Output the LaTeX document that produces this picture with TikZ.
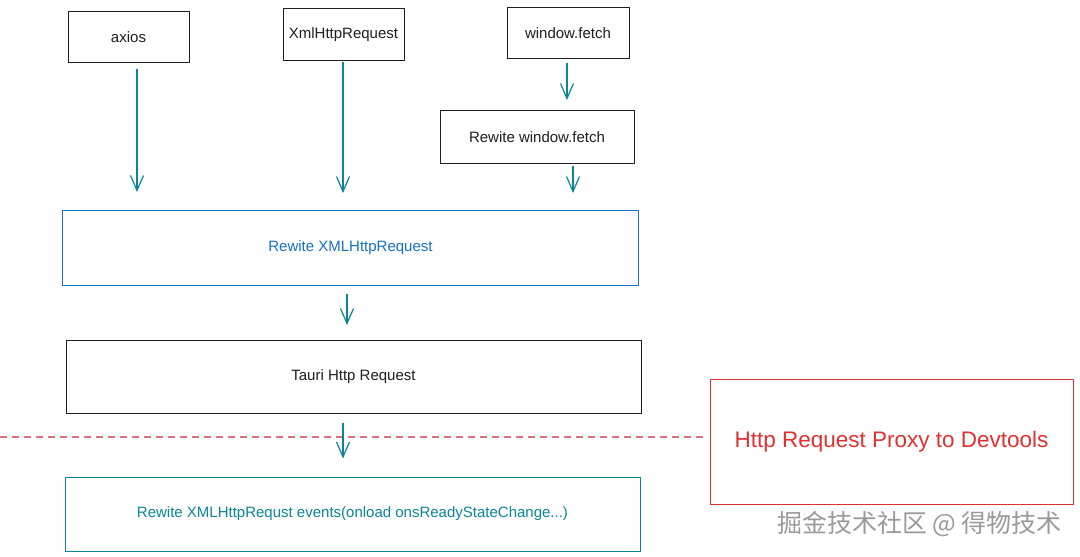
\documentclass[tikz,border=0pt]{standalone}
\usepackage{fontspec}
\usepackage{xcolor}
\usepackage{tikz}
\usetikzlibrary{arrows.meta,calc,positioning}
\setmainfont{Liberation Sans}
\newfontfamily\cjkfont{Noto Sans CJK SC}
\definecolor{inkblack}{HTML}{1E1E1E}
\definecolor{inkblue}{HTML}{1971C2}
\definecolor{inkteal}{HTML}{0C8599}
\definecolor{inkred}{HTML}{E03131}
\definecolor{dashred}{HTML}{E0707C}
\definecolor{markgray}{HTML}{9A9A9A}

\begin{document}
\begin{tikzpicture}[x=1pt,y=-1pt,
  box/.style={draw=inkblack,line width=1pt,inner sep=0pt,font=\fontsize{15}{18}\selectfont,text=inkblack},
  flow/.style={draw=inkteal,line width=1.2pt,-{Straight Barb[length=15pt,width=13pt]}},
  divider/.style={draw=dashred,line width=1.1pt,dash pattern=on 7pt off 5pt}]
  \useasboundingbox[fill=white] (0,0) rectangle (1080,557);
  \node[box,minimum width=121,minimum height=51] (axios) at (128.5,37) {axios};
  \node[box,minimum width=121,minimum height=52] (xhr) at (343.5,34.5) {XmlHttpRequest};
  \node[box,minimum width=122,minimum height=51] (fetch) at (568,33) {window.fetch};
  \node[box,minimum width=194,minimum height=53] (rfetch) at (537,137) {Rewite window.fetch};
  \node[box,draw=inkblue,text=inkblue,minimum width=576,minimum height=75] (rxhr) at (350.5,248) {Rewite XMLHttpRequest};
  \node[box,minimum width=575,minimum height=73] (tauri) at (353.5,377) {Tauri Http Request};
  \node[box,draw=inkteal,text=inkteal,minimum width=575,minimum height=74] (events) at (352.5,514) {Rewite XMLHttpRequst events(onload onsReadyStateChange...)};
  \node[box,draw=inkred,text=inkred,minimum width=363,minimum height=125,font=\fontsize{22.5}{26}\selectfont] (proxy) at (891.5,441.5) {Http Request Proxy to Devtools};
  \node[text=markgray,font=\cjkfont\fontsize{25}{28}\selectfont] (mark) at (919.5,524) {掘金技术社区 @ 得物技术};
  \coordinate (lineleft) at (0,437);
  \draw[divider,shorten >=5pt] (lineleft) -- (lineleft -| proxy.west);
  \draw[flow] ($(axios.south)+(8.5,6)$) -- ($(axios.south |- rxhr.north)+(8.5,-18)$);
  \draw[flow] ($(xhr.south)+(-0.5,1)$) -- ($(xhr.south |- rxhr.north)+(-0.5,-17)$);
  \draw[flow] ($(fetch.south)+(-1,4)$) -- ($(fetch.south |- rfetch.north)+(-1,-10)$);
  \draw[flow] ($(rfetch.south)+(36,2)$) -- ($(rfetch.south |- rxhr.north)+(36,-17)$);
  \draw[flow] ($(rxhr.south)+(-3.5,8)$) -- ($(rxhr.south |- tauri.north)+(-3.5,-15)$);
  \draw[flow] ($(tauri.south)+(-10.5,9)$) -- ($(tauri.south |- events.north)+(-10.5,-18)$);
\end{tikzpicture}
\end{document}
